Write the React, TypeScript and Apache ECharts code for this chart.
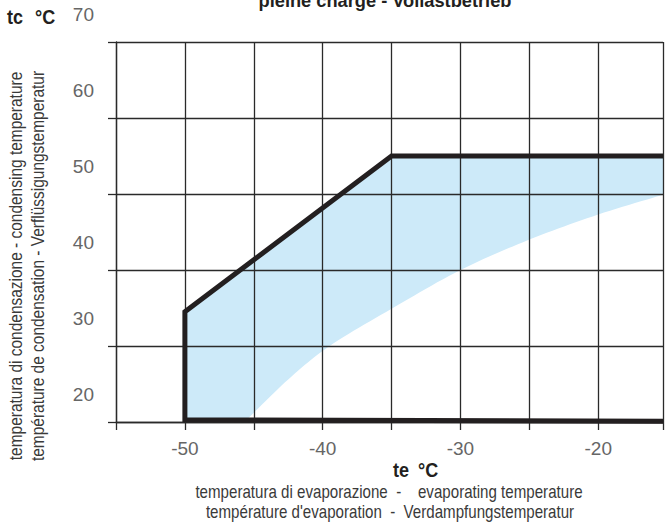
import React, { useEffect, useRef } from "react";
import * as echarts from "echarts";

// Envelope boundary (te °C, tc °C)
const envelopeTe = [-15.3, -50, -50, -35, -15.3];
const envelopeTc = [20.1, 20.3, 34.5, 55, 55];

// Lower edge of the shaded band (te °C, tc °C)
const curveTe = [-45.4, -42.5, -39.5, -35, -30, -25, -20, -15.3];
const curveTc = [20.5, 25.6, 30.0, 34.9, 40.0, 44.0, 47.3, 49.9];

// Axis tick labels
const xLabels = [-50, -40, -30, -20];
const yLabels = [20, 30, 40, 50, 60, 70];

const FONT = "'Liberation Sans', Arial, Helvetica, sans-serif";

function catmull(pts: number[][], steps: number): number[][] {
  const out: number[][] = [];
  const n = pts.length;
  for (let i = 0; i < n - 1; i++) {
    const p0 = pts[Math.max(0, i - 1)];
    const p1 = pts[i];
    const p2 = pts[i + 1];
    const p3 = pts[Math.min(n - 1, i + 2)];
    for (let s = 0; s < steps; s++) {
      const t = s / steps;
      const t2 = t * t;
      const t3 = t2 * t;
      const f = (a: number, b: number, c: number, d: number) =>
        0.5 * (2 * b + (-a + c) * t + (2 * a - 5 * b + 4 * c - d) * t2 + (-a + 3 * b - 3 * c + d) * t3);
      out.push([f(p0[0], p1[0], p2[0], p3[0]), f(p0[1], p1[1], p2[1], p3[1])]);
    }
  }
  out.push(pts[n - 1]);
  return out;
}

function txt(text: string, x: number, y: number, o: any = {}) {
  return {
    type: "text",
    x,
    y,
    rotation: o.rotation || 0,
    scaleX: o.scaleX ?? 0.84,
    style: {
      text,
      fontFamily: FONT,
      fontWeight: o.bold ? "bold" : "normal",
      fontSize: o.size || 18,
      fill: o.color || "#3a3a3a",
      textAlign: o.align || "center",
      textVerticalAlign: o.valign || "middle",
    },
  };
}

export default function App() {
  const ref = useRef<HTMLDivElement>(null);
  useEffect(() => {
    if (!ref.current) return;
    const chart = echarts.init(ref.current, undefined, { renderer: "svg" });
    const gridColor = "#2a2a2a";
    const option: any = {
      animation: false,
      backgroundColor: "#ffffff",
      grid: { left: 116, right: 0, top: 42, bottom: 105, containLabel: false },
      xAxis: {
        type: "value",
        min: -55,
        max: -15.3,
        interval: 5,
        z: 3,
        axisLine: { show: true, onZero: false, lineStyle: { color: gridColor, width: 1.3 } },
        axisTick: { show: true, length: 8, lineStyle: { color: gridColor, width: 1.3 } },
        splitLine: { show: true, lineStyle: { color: gridColor, width: 1.3 } },
        axisLabel: {
          margin: 17,
          fontSize: 19,
          color: "#666",
          fontFamily: FONT,
          formatter: (v: number) => (xLabels.indexOf(v) >= 0 ? String(v) : ""),
        },
      },
      yAxis: {
        type: "value",
        min: 20,
        max: 70,
        interval: 10,
        z: 3,
        axisLine: { show: true, onZero: false, lineStyle: { color: gridColor, width: 1.3 } },
        axisTick: { show: true, length: 8, lineStyle: { color: gridColor, width: 1.3 } },
        splitLine: { show: true, lineStyle: { color: gridColor, width: 1.3 } },
        axisLabel: {
          margin: 22,
          fontSize: 19,
          color: "#666",
          fontFamily: FONT,
          verticalAlign: "bottom",
          padding: [0, 0, 18, 0],
          formatter: (v: number) => (yLabels.indexOf(v) >= 0 ? String(v) : ""),
        },
      },
      series: [
        {
          type: "custom",
          coordinateSystem: "cartesian2d",
          silent: true,
          z: 1,
          data: [[envelopeTe[1], envelopeTc[1]]],
          renderItem: (_params: any, api: any) => {
            const up = envelopeTe.slice(1).map((t, i) => api.coord([t, envelopeTc[i + 1]]));
            const cv = curveTe.map((t, i) => api.coord([t, curveTc[i]])).reverse();
            const low = catmull(cv, 12);
            return {
              type: "polygon",
              shape: { points: [...up, ...low] },
              style: { fill: "#cdeaf9", stroke: null },
            };
          },
        },
        {
          type: "line",
          z: 5,
          clip: false,
          silent: true,
          showSymbol: false,
          symbol: "none",
          data: envelopeTe.map((t, i) => [t, envelopeTc[i]]),
          lineStyle: { color: "#231f20", width: 5, join: "miter", cap: "butt" },
        },
      ],
      graphic: [
        txt("pleine charge - Vollastbetrieb", 385, 10, { bold: true, size: 19, scaleX: 0.96, color: "#231f20", valign: "bottom" }),
        txt("tc", 7, 17, { bold: true, size: 20, scaleX: 0.9, color: "#231f20", align: "left" }),
        txt("°C", 35, 17, { bold: true, size: 20, scaleX: 0.9, color: "#231f20", align: "left" }),
        txt("te", 393, 470, { bold: true, size: 20, scaleX: 0.9, color: "#231f20", align: "left" }),
        txt("°C", 418, 470, { bold: true, size: 20, scaleX: 0.9, color: "#231f20", align: "left" }),
        txt("temperatura di evaporazione  -    evaporating temperature", 389, 492),
        txt("température d'evaporation  -  Verdampfungstemperatur", 390, 512),
        txt("temperatura di condensazione - condensing temperature", 16, 266, { rotation: Math.PI / 2, scaleX: 0.86 }),
        txt("température de condensation - Verflüssigungstemperatur", 38, 266, { rotation: Math.PI / 2, scaleX: 0.86 }),
      ],
    };
    chart.setOption(option);
    return () => chart.dispose();
  }, []);
  return (
    <div
      ref={ref}
      style={{ position: "absolute", left: 0, top: 0, width: 666, height: 527 }}
    />
  );
}
